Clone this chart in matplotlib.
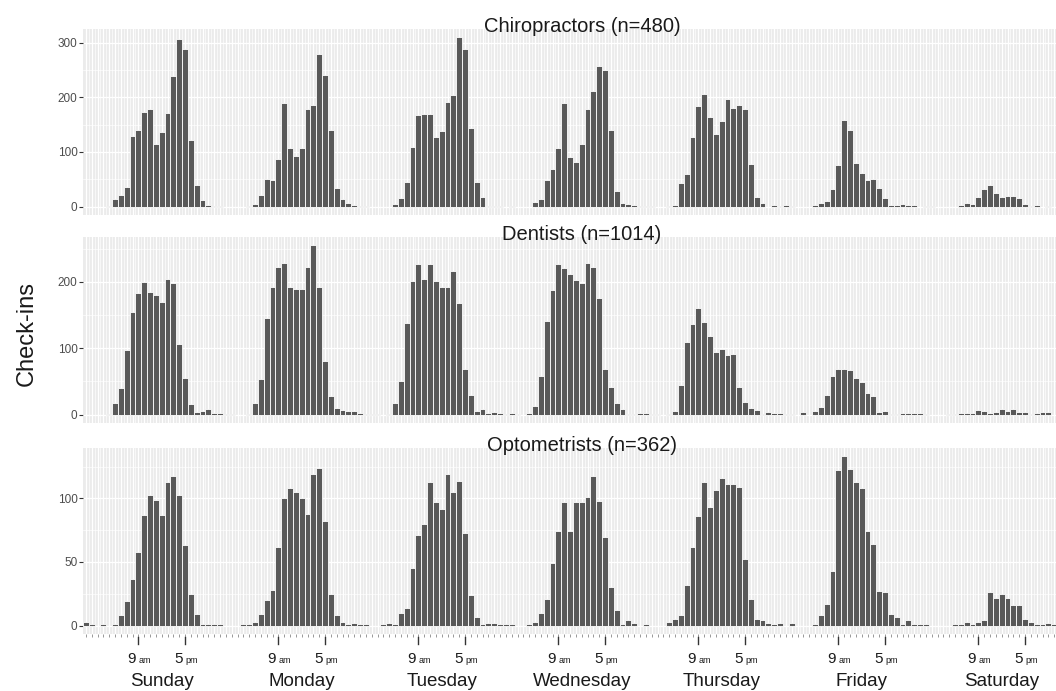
import matplotlib

matplotlib.use("Agg")
import matplotlib.pyplot as plt
import matplotlib.transforms as mtransforms
import numpy as np

plt.rcParams["font.family"] = ["Liberation Sans", "DejaVu Sans"]

DAYS = ["Sunday", "Monday", "Tuesday", "Wednesday", "Thursday", "Friday", "Saturday"]
# (hour of day, number, suffix) for the labelled ticks under each day
HOUR_MARKS = [(9, "9", "am"), (17, "5", "pm")]

# check-ins per hour of the week: one row of 24 hourly counts per day, Sun..Sat
chiropractors = [
    [0, 0, 0, 0, 1, 14, 21, 36, 130, 141, 174, 179, 114, 137, 172, 240, 307, 289, 122, 39, 12, 3, 1, 1],
    [0, 0, 0, 0, 1, 5, 21, 50, 48, 88, 190, 107, 93, 108, 179, 187, 279, 241, 141, 34, 13, 7, 2, 1],
    [1, 0, 0, 0, 0, 5, 16, 45, 109, 167, 170, 170, 127, 138, 192, 204, 310, 288, 144, 45, 17, 1, 1, 1],
    [0, 1, 0, 0, 0, 9, 13, 49, 69, 108, 190, 90, 82, 115, 179, 212, 258, 250, 141, 28, 7, 4, 2, 1],
    [1, 1, 0, 0, 1, 3, 43, 60, 128, 185, 207, 164, 133, 156, 197, 181, 187, 178, 78, 17, 6, 0, 3, 1],
    [2, 1, 0, 0, 0, 2, 6, 11, 32, 76, 158, 140, 80, 61, 49, 51, 34, 15, 3, 3, 5, 2, 2, 0],
    [1, 1, 0, 0, 0, 0, 2, 7, 5, 18, 32, 40, 24, 18, 20, 20, 15, 4, 1, 2, 0, 1, 0, 0],
]

dentists = [
    [0, 0, 0, 0, 1, 17, 40, 97, 154, 183, 200, 185, 180, 170, 204, 198, 107, 55, 16, 4, 5, 9, 3, 3],
    [1, 1, 0, 0, 1, 17, 53, 146, 192, 222, 229, 192, 189, 189, 222, 255, 193, 81, 28, 10, 7, 5, 6, 3],
    [1, 1, 1, 0, 1, 18, 50, 138, 202, 227, 204, 227, 202, 193, 193, 216, 168, 68, 29, 6, 8, 3, 4, 2],
    [1, 2, 1, 0, 2, 13, 58, 141, 188, 227, 221, 212, 203, 198, 228, 223, 176, 69, 41, 18, 9, 1, 1, 2],
    [2, 1, 1, 0, 1, 6, 44, 109, 137, 160, 140, 119, 95, 99, 90, 92, 41, 19, 10, 7, 1, 4, 3, 3],
    [1, 1, 0, 4, 0, 5, 11, 29, 58, 68, 68, 67, 55, 49, 32, 28, 4, 6, 1, 1, 2, 2, 2, 3],
    [1, 0, 0, 0, 1, 1, 2, 3, 3, 7, 6, 3, 4, 9, 5, 8, 4, 4, 1, 3, 4, 4, 0, 0],
]

optometrists = [
    [3, 1, 0, 1, 0, 1, 8, 19, 37, 58, 87, 103, 99, 87, 113, 118, 103, 63, 25, 9, 1, 1, 1, 1],
    [0, 0, 0, 1, 1, 3, 9, 20, 28, 62, 100, 108, 105, 100, 88, 119, 124, 82, 25, 8, 3, 1, 2, 1],
    [1, 0, 0, 1, 2, 1, 10, 14, 45, 71, 80, 113, 97, 92, 119, 105, 114, 73, 24, 7, 1, 2, 2, 1],
    [1, 1, 0, 0, 1, 3, 10, 21, 49, 74, 97, 74, 97, 97, 101, 118, 98, 70, 30, 12, 1, 4, 2, 0],
    [1, 0, 0, 0, 3, 5, 8, 32, 62, 86, 113, 93, 107, 116, 111, 111, 109, 52, 21, 5, 4, 2, 1, 2],
    [0, 2, 0, 0, 0, 1, 8, 17, 43, 122, 133, 123, 113, 108, 74, 64, 27, 26, 9, 7, 1, 4, 1, 1],
    [1, 0, 0, 0, 0, 1, 1, 3, 1, 3, 4, 26, 22, 25, 22, 16, 16, 5, 3, 1, 1, 2, 1, 0],
]

# (title, data, major y ticks, minor y ticks)
PANELS = [
    ("Chiropractors (n=480)", chiropractors, [0, 100, 200, 300], [50, 150, 250]),
    ("Dentists (n=1014)", dentists, [0, 100, 200], [50, 150, 250]),
    ("Optometrists (n=362)", optometrists, [0, 50, 100], [25, 75, 125]),
]

W, H = 1056, 691
LEFT, PANEL_W, PANEL_H = 83, 998, 186
PANEL_TOPS = [29, 237, 448]
BAR = "#595959"
PANEL_BG = "#EBEBEB"

fig = plt.figure(figsize=(W / 100, H / 100), dpi=100)
fig.patch.set_facecolor("white")

hours = np.arange(7 * 24)
axes = []
for (title, rows, major, minor), top in zip(PANELS, PANEL_TOPS):
    ax = fig.add_axes([LEFT / W, 1 - (top + PANEL_H) / H, PANEL_W / W, PANEL_H / H])
    vals = np.concatenate([np.asarray(r, dtype=float) for r in rows])
    ax.set_facecolor(PANEL_BG)
    ax.bar(hours, vals, width=1.0, color=BAR, edgecolor="white", linewidth=0.6, zorder=3)

    ax.set_xlim(-0.5, 170.6)
    ymax = vals.max()
    ax.set_ylim(-0.05 * ymax, 1.05 * ymax)
    ax.set_yticks(major)
    ax.set_yticks(minor, minor=True)
    ax.set_xticks(hours)
    ax.set_xticks(hours + 0.5, minor=True)
    ax.set_axisbelow(True)
    ax.grid(which="major", color="white", linewidth=0.9)
    ax.grid(which="minor", color="white", linewidth=0.45)
    for s in ax.spines.values():
        s.set_visible(False)
    ax.tick_params(axis="y", which="major", length=3, width=0.8, color="#333333",
                   labelsize=8.5, labelcolor="#4D4D4D", pad=1)
    ax.tick_params(axis="y", which="minor", length=0)
    ax.tick_params(axis="x", which="both", length=0, labelbottom=False)
    ax.text(0.5, 1 - 3 / PANEL_H, title, transform=ax.transAxes, ha="center",
            va="baseline", fontsize=14.5, color="#1A1A1A", zorder=5)
    axes.append(ax)

# hour ticks and 9am / 5pm labels under the bottom panel only
bottom = axes[-1]
bottom.tick_params(axis="x", which="major", length=2, width=0.6, color="#888888")
tick_tr = mtransforms.blended_transform_factory(bottom.transData, bottom.transAxes)
label_tr = mtransforms.blended_transform_factory(bottom.transData, fig.transFigure)
for d, day in enumerate(DAYS):
    for h, num, suffix in HOUR_MARKS:
        x = 24 * d + h
        bottom.plot([x, x], [-3 / PANEL_H, -10 / PANEL_H], transform=tick_tr,
                    color="#333333", linewidth=1.0, clip_on=False)
        fig.text(x - 0.45, 1 - 663 / H, num, transform=label_tr, ha="right",
                 va="baseline", fontsize=11, color="#1A1A1A")
        fig.text(x, 1 - 663 / H, suffix, transform=label_tr, ha="left",
                 va="baseline", fontsize=6.5, color="#1A1A1A")
    fig.text(24 * d + 13, 1 - 686 / H, day, transform=label_tr, ha="center",
             va="baseline", fontsize=13.5, color="#1A1A1A")

fig.text(27 / W, 1 - 334 / H, "Check-ins", rotation=90, ha="center", va="center",
         fontsize=17, color="#1A1A1A")

fig.savefig("out.png", dpi=100)
